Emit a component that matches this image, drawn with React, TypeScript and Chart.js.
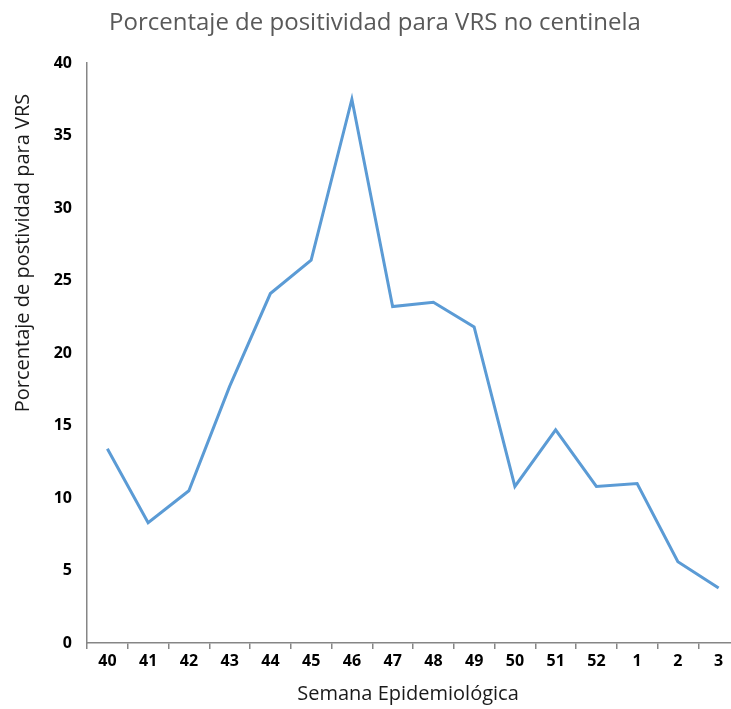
import React, { useEffect, useRef } from "react";
import { Chart, registerables } from "chart.js";

Chart.register(...registerables);

const weeks = ["40", "41", "42", "43", "44", "45", "46", "47", "48", "49", "50", "51", "52", "1", "2", "3"];
const positivity = [13.4, 8.3, 10.5, 17.7, 24.1, 26.4, 37.5, 23.2, 23.5, 21.8, 10.8, 14.7, 10.8, 11.0, 5.6, 3.8];

const chartTitle = "Porcentaje de positividad para VRS no centinela";
const yTitle = "Porcentaje de postividad para VRS";
const xTitle = "Semana Epidemiológica";

const FONT = "'Open Sans', sans-serif";

const textPlugin = {
  id: "texts",
  afterDraw(chart: any) {
    const ctx = chart.ctx;
    ctx.save();
    ctx.textAlign = "center";
    ctx.textBaseline = "middle";
    ctx.fillStyle = "#595959";
    ctx.font = `24px ${FONT}`;
    ctx.fillText(chartTitle, 375, 23);
    ctx.fillStyle = "#1a1a1a";
    ctx.font = `20px ${FONT}`;
    ctx.fillText(xTitle, 408, 694);
    ctx.translate(23, 253);
    ctx.rotate(-Math.PI / 2);
    ctx.fillText(yTitle, 0, 0);
    ctx.restore();
  },
};

export default function App() {
  const ref = useRef<HTMLCanvasElement>(null);
  useEffect(() => {
    if (!ref.current) return;
    const chart = new Chart(ref.current, {
      type: "line",
      data: {
        labels: weeks,
        datasets: [
          {
            data: positivity,
            borderColor: "#5B9BD5",
            borderWidth: 3,
            pointRadius: 0,
            tension: 0,
            fill: false,
          },
        ],
      },
      options: {
        animation: false,
        responsive: false,
        maintainAspectRatio: false,
        layout: { padding: { top: 63, right: 6, left: 0, bottom: 0 } },
        plugins: { legend: { display: false }, title: { display: false }, tooltip: { enabled: false } },
        scales: {
          x: {
            offset: true,
            grid: { display: true, offset: true, drawOnChartArea: false, drawTicks: true, tickLength: 6, color: "#868686", lineWidth: 1.5 },
            border: { display: true, color: "#868686", width: 1.5 },
            ticks: { color: "#000", font: { family: FONT, size: 16, weight: "bold" }, padding: 3, maxRotation: 0, autoSkip: false },
            afterFit: (s: any) => { s.height = 66; },
          },
          y: {
            min: 0,
            max: 40,
            grid: { display: false, drawTicks: false },
            border: { display: true, color: "#868686", width: 1.5 },
            ticks: { stepSize: 5, color: "#000", font: { family: FONT, size: 16, weight: "bold" }, padding: 15 },
            afterFit: (s: any) => { s.width = 87; },
          },
        },
      },
      plugins: [textPlugin],
    });
    return () => chart.destroy();
  }, []);
  return (
    <div style={{ position: "absolute", left: 0, top: 0, width: 731, height: 709, overflow: "hidden", background: "#fff" }}>
      <canvas ref={ref} width={745} height={709} style={{ width: 745, height: 709, display: "block" }} />
    </div>
  );
}
